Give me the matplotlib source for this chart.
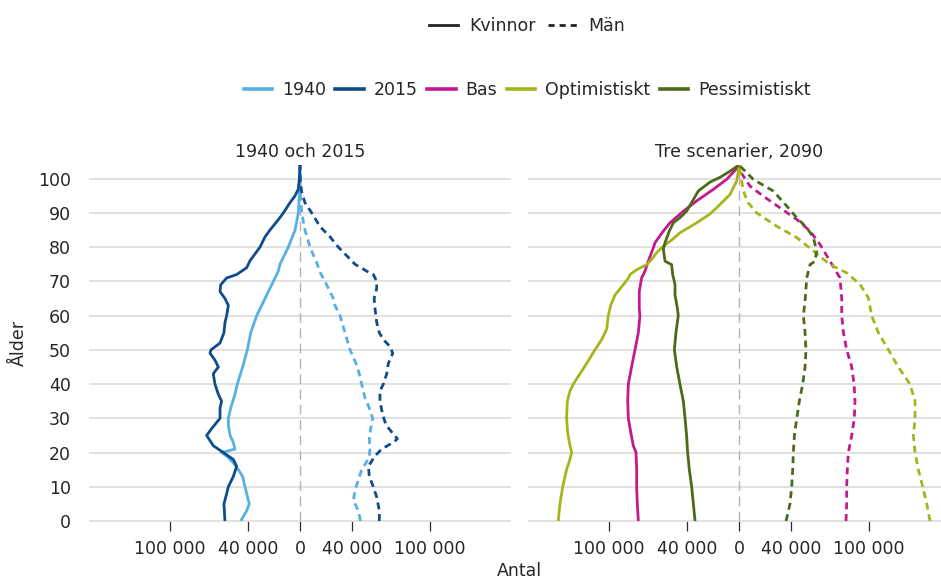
import matplotlib
matplotlib.use("Agg")
import matplotlib.pyplot as plt
from matplotlib.lines import Line2D
from matplotlib.ticker import FuncFormatter

# -----------------------------------------------------------------------------
# Data (antal personer i tusental, kvinnor negativa)
# -----------------------------------------------------------------------------
AGE_1940_K = [0, 3, 5, 8, 10, 13, 15, 17, 19, 20, 21, 23, 25, 28, 30, 33, 37, 40,
              45, 50, 55, 60, 65, 70, 73, 75, 80, 85, 90, 95, 100, 104]
K_1940 = [-45.6, -41, -39, -41, -42.3, -44.1, -47.4, -51.3, -56.4, -60.3, -50, -51.3,
          -53.8, -55.1, -55.1, -53.3, -50, -48.2, -44.1, -40.5, -37.9, -33.3, -26.9,
          -20.5, -16.7, -15.4, -9, -3.8, -1.3, -0.5, -0.2, 0]
AGE_1940_M = [0, 3, 6, 9, 12, 15, 17, 19, 21, 24, 27, 30, 33, 36, 40, 43, 46, 50, 55,
              60, 63, 65, 70, 73, 75, 80, 85, 90, 95, 100, 104]
M_1940 = [46.5, 44.9, 41, 42.3, 44.9, 47.4, 50.8, 53.3, 53.8, 53.3, 54.4, 55.9, 53.3,
          50, 47.4, 45.6, 43.1, 38.5, 34.6, 30.8, 26.9, 25.6, 19.2, 14.9, 13.3, 7.7,
          3.8, 1.3, 0.3, 0.1, 0]

AGE_2015_K = [0, 5, 8, 10, 13, 16, 18, 20, 22, 25, 27, 30, 33, 35, 37, 40, 43, 45, 47,
              49, 50, 52, 55, 58, 60, 63, 65, 67, 69, 71, 72, 74, 76, 80, 83, 85, 88,
              90, 93, 95, 97, 100, 104]
K_2015 = [-57.7, -58.5, -56.4, -55.1, -51.3, -48.7, -51.3, -59, -66.7, -71.8, -67.9,
          -61.5, -61.5, -60.3, -62.8, -65.4, -66.7, -62.8, -65.4, -69.2, -68.5, -61.5,
          -58.5, -57.7, -56.4, -55.1, -57.7, -61.5, -61, -56.4, -48.7, -41, -38.5,
          -30.8, -26.9, -23.1, -16.7, -12.8, -7.7, -3.8, -1.3, -0.5, 0]
AGE_2015_M = [0, 3, 7, 10, 13, 16, 19, 21, 23, 24, 26, 28, 31, 35, 38, 40, 43, 46, 49,
              51, 53, 55, 58, 62, 65, 68, 70, 72, 73, 75, 77, 80, 83, 86, 90, 93, 96,
              100, 104]
M_2015 = [61, 61, 59, 56.4, 53.3, 52.6, 57.7, 62.8, 71.8, 74.9, 70.5, 66.2, 63.6, 61.5,
          61.5, 64.1, 66.7, 67.9, 71.3, 69.2, 64.1, 61, 59, 57.7, 57, 59, 59, 56.4,
          51.3, 42.3, 37.2, 29.5, 23.1, 15.4, 9, 3.8, 1.3, 0.2, 0]

AGE_BAS_K = [0, 5, 10, 15, 20, 22, 26, 30, 35, 40, 45, 50, 55, 60, 62, 67, 71, 73, 76,
             79.8, 81.3, 84.7, 87.1, 90.5, 93.5, 96.9, 99.8, 103.3, 104]
BAS_K = [-77.4, -78.2, -78.7, -78.7, -79.2, -81.3, -83.3, -85.1, -85.6, -85.1, -82.6,
         -80, -77.4, -76.2, -76.7, -76.7, -74.9, -72.3, -69.7, -65.9, -64.6, -58.2,
         -53.1, -42.8, -32.6, -19.7, -9.5, -1, 0]
AGE_BAS_M = [0, 5, 10, 15, 20, 25, 30, 35, 40, 45, 50, 55, 60, 65, 71, 75.9, 80.8,
             84.7, 88.1, 91.5, 94.9, 97.8, 102.2, 104]
BAS_M = [82.3, 82.8, 82.8, 83.3, 84.1, 86.7, 88.7, 89.2, 88.5, 86.7, 82.8, 80.3, 79,
         79, 77.7, 70, 62.3, 54.6, 44.4, 31.5, 18.7, 8.5, 0.8, 0]

AGE_OPT_K = [0, 5, 10, 15, 18, 20, 23, 26, 30, 35, 38, 40, 43, 46, 50, 53, 56, 60, 63,
             66, 69, 71, 72, 73.4, 74.9, 76.5, 78.4, 80.3, 82, 84.2, 87.1, 89.5, 91.5,
             95.4, 99.3, 102.7, 104]
OPT_K = [-139, -137.7, -135.6, -132.6, -130, -128.7, -130.5, -131.8, -132.6, -132, -130,
         -127.4, -122.3, -117.2, -110.8, -105.6, -101.8, -100.5, -98.7, -95.4, -89, -85,
         -83.8, -78.7, -71, -67, -63.3, -58.2, -52, -45.4, -32.6, -23, -17.2, -6.9,
         -1.8, -0.3, 0]
AGE_OPT_M = [0, 5, 10, 15, 20, 25, 30, 35, 40, 45, 50, 55, 60, 65.2, 69.1, 72.5, 74.9,
             78.9, 82.8, 86.1, 90, 93, 96.4, 102.2, 104]
OPT_M = [146.9, 144.4, 141.3, 137.9, 135.4, 134.1, 135.4, 135.4, 131.5, 122.5, 114.9,
         107.2, 102, 99.5, 93.1, 82.8, 70, 57.2, 44.4, 29, 13.6, 7, 3.3, 0.8, 0]

AGE_PESS_K = [0, 5, 10, 15, 20, 25, 30, 35, 40, 45, 50, 55, 60, 62.2, 66, 69.1, 72,
              74.9, 75.9, 77.5, 79.4, 81.3, 84.7, 87.1, 88.6, 90.5, 93.9, 96.4, 99,
              100.4, 102.2, 104]
PESS_K = [-33.8, -35.1, -36.4, -38.2, -39.5, -40.3, -41.5, -42.8, -45.4, -47.9, -49.7,
          -48.5, -46.7, -47.4, -49.2, -49.2, -51, -51.8, -56.9, -57.5, -58.2, -56.9,
          -53.6, -50.5, -45.4, -40.3, -35.1, -31.3, -22.3, -14.6, -6.9, 0]
AGE_PESS_M = [0, 5, 10, 15, 20, 25, 30, 35, 40, 45, 50, 55, 60, 64.3, 71, 74.9, 75.9,
              78.9, 82.8, 85.7, 88.6, 92, 96.4, 99.8, 104]
PESS_M = [36.2, 39.2, 40.5, 41.3, 41.8, 42.6, 44.4, 46.4, 49, 50.8, 51.5, 50.8, 49.5,
          50.8, 52.1, 54.6, 58.5, 59.7, 57.2, 52.1, 44.4, 36.7, 26.4, 11, 0]

X_TICKS = [-100, -40, 0, 40, 100]
Y_TICKS = list(range(0, 101, 10))

COLORS = {
    "1940": "#56B0E3",
    "2015": "#0E4C8B",
    "Bas": "#C4198E",
    "Optimistiskt": "#A8B41A",
    "Pessimistiskt": "#4B6B17",
}

# -----------------------------------------------------------------------------
# Style
# -----------------------------------------------------------------------------
plt.rcParams.update({
    "font.family": "DejaVu Sans",
    "font.size": 12.5,
    "text.color": "#262626",
    "xtick.color": "#2b2b2b",
    "xtick.labelcolor": "#262626",
    "ytick.labelcolor": "#262626",
})
LW = 2.0
DASH = (2.5, 1.7)

fig = plt.figure(figsize=(9.41, 5.79), dpi=100)
W, H = 941, 579
ax_l = fig.add_axes([90 / W, 1 - 521 / H, 420 / W, 356 / H])
ax_r = fig.add_axes([529 / W, 1 - 521 / H, 420 / W, 356 / H])


def style_axis(ax, title, show_y):
    ax.set_xlim(-161.5, 161.5)
    ax.set_ylim(0, 104)
    for s in ax.spines.values():
        s.set_visible(False)
    ax.set_xticks(X_TICKS)
    ax.xaxis.set_major_formatter(
        FuncFormatter(lambda v, p: f"{abs(v) * 1000:,.0f}".replace(",", " ")))
    ax.tick_params(axis="x", length=7.5, width=0.9, pad=6, direction="out")
    ax.set_yticks(Y_TICKS)
    ax.tick_params(axis="y", length=0, pad=13.9, labelleft=show_y)
    ax.grid(axis="y", color="#dedede", lw=1.3, zorder=0)
    ax.grid(axis="x", visible=False)
    for gl in ax.get_ygridlines():
        gl.set_clip_on(False)
    ax.axvline(0, color="#b3b3b3", lw=1.0, dashes=(7, 4), zorder=1)
    ax.set_axisbelow(True)
    ax.set_title(title, fontsize=12.5, pad=6)


def pyramid(ax, ages_k, vals_k, ages_m, vals_m, color):
    ax.plot(vals_k, ages_k, color=color, lw=LW, zorder=3, solid_capstyle="butt")
    ax.plot(vals_m, ages_m, color=color, lw=LW, dashes=DASH, zorder=3)


style_axis(ax_l, "1940 och 2015", True)
style_axis(ax_r, "Tre scenarier, 2090", False)

pyramid(ax_l, AGE_1940_K, K_1940, AGE_1940_M, M_1940, COLORS["1940"])
pyramid(ax_l, AGE_2015_K, K_2015, AGE_2015_M, M_2015, COLORS["2015"])

pyramid(ax_r, AGE_BAS_K, BAS_K, AGE_BAS_M, BAS_M, COLORS["Bas"])
pyramid(ax_r, AGE_OPT_K, OPT_K, AGE_OPT_M, OPT_M, COLORS["Optimistiskt"])
pyramid(ax_r, AGE_PESS_K, PESS_K, AGE_PESS_M, PESS_M, COLORS["Pessimistiskt"])

fig.text(19 / W, 1 - 343 / H, "Ålder", rotation=90, ha="center", va="center")
fig.text(519 / W, 1 - 571 / H, "Antal", ha="center", va="center")

# legends
sex_handles = [Line2D([], [], color="#222222", lw=2.0),
               Line2D([], [], color="#222222", lw=2.0, dashes=(2.2, 1.8))]
fig.legend(sex_handles, ["Kvinnor", "Män"], loc="center",
           bbox_to_anchor=(527 / W, 1 - 25.7 / H), ncol=2, frameon=False,
           handlelength=1.7, handletextpad=0.65, columnspacing=0.65,
           borderaxespad=0, fontsize=12.5)
series_names = ["1940", "2015", "Bas", "Optimistiskt", "Pessimistiskt"]
series_handles = [Line2D([], [], color=COLORS[n], lw=2.6) for n in series_names]
fig.legend(series_handles, series_names, loc="center",
           bbox_to_anchor=(527 / W, 1 - 90 / H), ncol=5, frameon=False,
           handlelength=1.65, handletextpad=0.55, columnspacing=0.55,
           borderaxespad=0, fontsize=12.5)

fig.savefig("out.png", dpi=100)
